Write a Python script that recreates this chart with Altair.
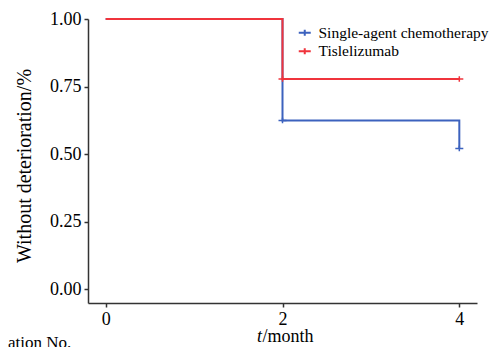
import altair as alt
import pandas as pd

groups = ["Single-agent chemotherapy", "Tislelizumab"]
colors = ["#3C62BE", "#F0343C"]

chemo_t = [0, 2, 4, 4]
chemo_s = [1.0, 0.625, 0.625, 0.521]
tisl_t = [0, 2, 4]
tisl_s = [1.0, 0.778, 0.778]

chemo_cens_t = [2, 4]
chemo_cens_s = [0.625, 0.521]
tisl_cens_t = [2, 4]
tisl_cens_s = [0.778, 0.778]

x_ticks = [0, 2, 4]
y_ticks = [0, 0.25, 0.5, 0.75, 1.0]

FONT = "Liberation Serif"

lines = pd.DataFrame({
    "t": chemo_t + tisl_t,
    "s": chemo_s + tisl_s,
    "group": [groups[0]] * len(chemo_t) + [groups[1]] * len(tisl_t),
    "order": list(range(len(chemo_t))) + list(range(len(tisl_t))),
})
cens = pd.DataFrame({
    "t": chemo_cens_t + tisl_cens_t,
    "s": chemo_cens_s + tisl_cens_s,
    "group": [groups[0]] * len(chemo_cens_t) + [groups[1]] * len(tisl_cens_t),
})

color = alt.Color(
    "group:N",
    scale=alt.Scale(domain=groups, range=colors),
    legend=alt.Legend(
        title=None,
        orient="none",
        legendX=209,
        legendY=6,
        symbolType="M-1,0H1M0,-0.5V0.5",
        symbolSize=144,
        symbolStrokeWidth=2,
        labelFont=FONT,
        labelFontSize=15.5,
        labelColor="black",
        labelOffset=6,
        labelLimit=0,
        rowPadding=1.5,
        padding=0,
    ),
)

axis_style = dict(
    grid=False,
    domainColor="#333333",
    domainWidth=1.5,
    tickColor="#333333",
    tickWidth=1.5,
    tickSize=4,
    labelFont=FONT,
    labelFontSize=18,
    labelColor="black",
    labelPadding=3,
    labelFlush=False,
    title=None,
)

xenc = alt.X(
    "t:Q",
    scale=alt.Scale(domain=[-0.2, 4.2], nice=False),
    axis=alt.Axis(values=x_ticks, format="d", **axis_style),
)
yenc = alt.Y(
    "s:Q",
    scale=alt.Scale(domain=[-0.05, 1.0], nice=False),
    axis=alt.Axis(values=y_ticks, format=".2f", **axis_style),
)

line_layer = alt.Chart(lines).mark_line(
    interpolate="step-after", strokeWidth=2
).encode(x=xenc, y=yenc, color=color, order="order:Q")

cens_layer = alt.Chart(cens).mark_point(
    shape="M-1,0H1M0,-0.7V0.7", size=64, filled=False, strokeWidth=1.5, opacity=1
).encode(x="t:Q", y="s:Q", color=alt.Color("group:N", legend=None))

ytitle = alt.Chart(pd.DataFrame({"txt": ["Without deterioration/%"]})).mark_text(
    font=FONT, fontSize=20, angle=270, align="center", baseline="middle", color="black"
).encode(text="txt:N", x=alt.value(-63), y=alt.value(147))

xt1 = alt.Chart(pd.DataFrame({"txt": ["t"]})).mark_text(
    font=FONT, fontSize=18, fontStyle="italic", align="left", baseline="alphabetic", color="black"
).encode(text="txt:N", x=alt.value(169), y=alt.value(323))
xt2 = alt.Chart(pd.DataFrame({"txt": ["/month"]})).mark_text(
    font=FONT, fontSize=18, align="left", baseline="alphabetic", color="black"
).encode(text="txt:N", x=alt.value(174.5), y=alt.value(323))

stray = alt.Chart(pd.DataFrame({"txt": ["ation No."]})).mark_text(
    font=FONT, fontSize=17, align="left", baseline="alphabetic", color="black"
).encode(text="txt:N", x=alt.value(-80), y=alt.value(329))

chart = alt.layer(line_layer, cens_layer, ytitle, xt1, xt2, stray).properties(
    width=389,
    height=284,
    autosize=alt.AutoSizeParams(type="none"),
    padding={"left": 80, "top": 11, "right": 14, "bottom": 44},
).configure(font=FONT).configure_view(stroke="#ffffff")

chart.save("out.html", embed_options={"renderer": "svg", "actions": False})
